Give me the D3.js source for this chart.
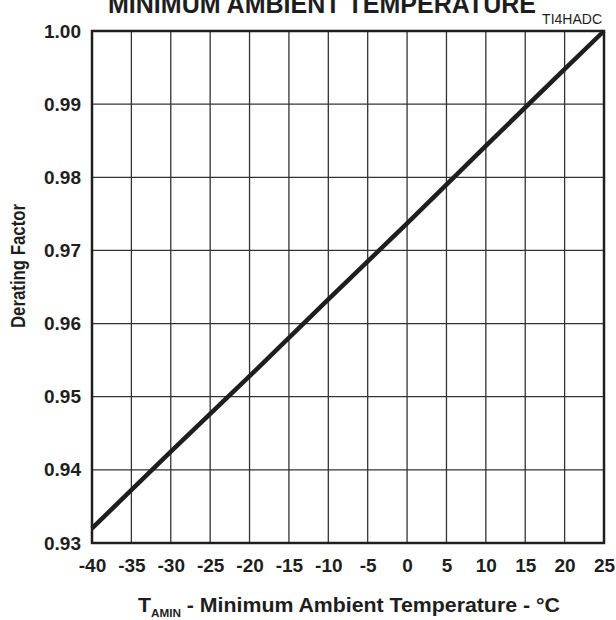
<!DOCTYPE html>
<html>
<head>
<meta charset="utf-8">
<script src="https://cdn.jsdelivr.net/npm/d3@7"></script>
<style>
  body { margin: 0; background: #fff; }
  svg { display: block; font-family: "Liberation Sans", Arial, sans-serif; }
</style>
</head>
<body>
<svg id="chart" width="616" height="620"></svg>
<script>
// values
const temps = [-40, -30, -20, -10, 0, 10, 20, 25];
const factors = [0.932, 0.9425, 0.9528, 0.9633, 0.9737, 0.9843, 0.9948, 1.0];
const xTicks = [-40, -35, -30, -25, -20, -15, -10, -5, 0, 5, 10, 15, 20, 25];
const yTicks = [0.93, 0.94, 0.95, 0.96, 0.97, 0.98, 0.99, 1.00];

const PLOT_LEFT = 92;
const PLOT_RIGHT = 604;
const PLOT_TOP = 31;
const PLOT_BOTTOM = 543;
const ink = '#1e1e1e';

const svg = d3.select('svg#chart');

const x = d3.scaleLinear().domain([-40, 25]).range([PLOT_LEFT, PLOT_RIGHT]);
const y = d3.scaleLinear().domain([0.93, 1.0]).range([PLOT_BOTTOM, PLOT_TOP]);

// grid
svg.append('g')
  .selectAll('line')
  .data(xTicks)
  .enter()
  .append('line')
  .attr('x1', (d) => x(d))
  .attr('x2', (d) => x(d))
  .attr('y1', PLOT_TOP)
  .attr('y2', PLOT_BOTTOM)
  .attr('stroke', '#333')
  .attr('stroke-width', 1.3);

svg.append('g')
  .selectAll('line')
  .data(yTicks)
  .enter()
  .append('line')
  .attr('x1', PLOT_LEFT)
  .attr('x2', PLOT_RIGHT)
  .attr('y1', (d) => y(d))
  .attr('y2', (d) => y(d))
  .attr('stroke', '#333')
  .attr('stroke-width', 1.3);

// frame
svg.append('rect')
  .attr('x', PLOT_LEFT)
  .attr('y', PLOT_TOP)
  .attr('width', PLOT_RIGHT - PLOT_LEFT)
  .attr('height', PLOT_BOTTOM - PLOT_TOP)
  .attr('fill', 'none')
  .attr('stroke', ink)
  .attr('stroke-width', 2.5);

// axes (labels only) - plain hyphen for negatives, like the datasheet
const xAxis = svg.append('g')
  .attr('transform', `translate(0,${PLOT_BOTTOM})`)
  .call(d3.axisBottom(x).tickValues(xTicks).tickSize(0).tickPadding(16).tickFormat((d) => String(d)));
const yAxis = svg.append('g')
  .attr('transform', `translate(${PLOT_LEFT},0)`)
  .call(d3.axisLeft(y).tickValues(yTicks).tickSize(0).tickPadding(11).tickFormat((d) => d.toFixed(2)));

[xAxis, yAxis].forEach((g) => {
  g.select('.domain').remove();
  g.selectAll('text')
    .attr('font-family', '"Liberation Sans", Arial, sans-serif')
    .attr('font-size', 19)
    .attr('font-weight', 'bold')
    .attr('fill', ink);
});

// data line
const line = d3.line()
  .x((d, i) => x(temps[i]))
  .y((d) => y(d));

svg.append('path')
  .attr('d', line(factors))
  .attr('fill', 'none')
  .attr('stroke', ink)
  .attr('stroke-width', 4.5);

// titles
svg.append('text')
  .attr('x', 322)
  .attr('y', 13)
  .attr('text-anchor', 'middle')
  .attr('font-size', 25)
  .attr('font-weight', 'bold')
  .attr('fill', ink)
  .attr('textLength', 428)
  .attr('lengthAdjust', 'spacingAndGlyphs')
  .text('MINIMUM AMBIENT TEMPERATURE');

svg.append('text')
  .attr('x', 602)
  .attr('y', 24)
  .attr('text-anchor', 'end')
  .attr('font-size', 14)
  .attr('fill', ink)
  .text('TI4HADC');

const xt = svg.append('text')
  .attr('x', 138)
  .attr('y', 612)
  .attr('font-size', 20)
  .attr('font-weight', 'bold')
  .attr('fill', ink);
xt.append('tspan').text('T');
xt.append('tspan').attr('font-size', 11).attr('dy', 5).text('AMIN');
xt.append('tspan').attr('dy', -5).text('\u00a0- Minimum Ambient Temperature - \u00b0C');
const xtLen = xt.node().getComputedTextLength();
xt.attr('transform', `translate(138,0) scale(${422 / xtLen},1) translate(-138,0)`);

svg.append('text')
  .attr('transform', 'translate(25,266) rotate(-90)')
  .attr('text-anchor', 'middle')
  .attr('font-size', 20)
  .attr('font-weight', 'bold')
  .attr('fill', ink)
  .attr('textLength', 124)
  .attr('lengthAdjust', 'spacingAndGlyphs')
  .text('Derating Factor');
</script>
</body>
</html>
